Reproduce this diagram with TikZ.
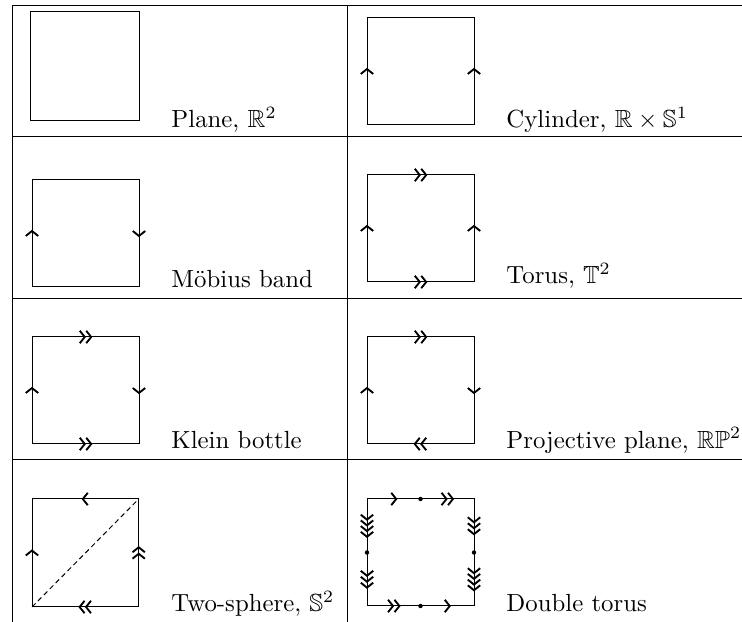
\documentclass[tikz,border=0pt]{standalone}
\usepackage{amssymb}
\usetikzlibrary{calc}
\tikzset{
  chevline/.style={line width=0.75pt,line join=miter},
  cone/.pic={\draw[chevline] (-1pt,2.5pt) -- (1pt,0pt) -- (-1pt,-2.5pt);},
  ctwo/.pic={\draw[chevline] (-2.3pt,2.5pt) -- (-0.3pt,0pt) -- (-2.3pt,-2.5pt);
             \draw[chevline] (0.3pt,2.5pt) -- (2.3pt,0pt) -- (0.3pt,-2.5pt);},
  cthree/.pic={\draw[chevline] (-3.4pt,2.5pt) -- (-1.4pt,0pt) -- (-3.4pt,-2.5pt);
             \draw[chevline] (-1pt,2.5pt) -- (1pt,0pt) -- (-1pt,-2.5pt);
             \draw[chevline] (1.4pt,2.5pt) -- (3.4pt,0pt) -- (1.4pt,-2.5pt);},
  cfour/.pic={\draw[chevline] (-4.45pt,2.5pt) -- (-2.45pt,0pt) -- (-4.45pt,-2.5pt);
             \draw[chevline] (-2.15pt,2.5pt) -- (-0.15pt,0pt) -- (-2.15pt,-2.5pt);
             \draw[chevline] (0.15pt,2.5pt) -- (2.15pt,0pt) -- (0.15pt,-2.5pt);
             \draw[chevline] (2.45pt,2.5pt) -- (4.45pt,0pt) -- (2.45pt,-2.5pt);},
  tabrule/.style={line width=0.4pt},
  sq/.style={line width=0.4pt},
  lab/.style={anchor=base west,inner sep=0pt},
  vdot/.style={circle,fill,inner sep=0pt,minimum size=1.8pt},
}
\begin{document}
\begin{tikzpicture}[x=0.4032pt,y={(0pt,-0.4032pt)}]
\useasboundingbox (0,0) rectangle (742,622);
% table rules
\coordinate (tl) at (12,5.5);
\coordinate (tr) at (742,5.5);
\draw[tabrule] (tl) -- (tr);
\draw[tabrule] (12,137) -- (742,137);
\draw[tabrule] (12,299) -- (742,299);
\draw[tabrule] (12,460) -- (742,460);
\draw[tabrule] (12,5.5) -- (12,622);
\draw[tabrule] (347,5.5) -- (347,622);

% Plane
\draw[sq] (30,12) rectangle (139,121);
\node[lab] (l1) at (171,128) {Plane, $\mathbb{R}^2$};

% Cylinder
\coordinate (c1) at (367,18); \coordinate (c3) at (474,125);
\draw[sq] (c1) rectangle (c3);
\pic[rotate=90] at (367,71.5) {cone};
\pic[rotate=90] at (474,71.5) {cone};
\node[lab] (l2) at (506,128) {Cylinder, $\mathbb{R}\times\mathbb{S}^1$};

% Moebius
\coordinate (m1) at (32,180); \coordinate (m3) at (139,287);
\draw[sq] (m1) rectangle (m3);
\pic[rotate=90] at (32,233.5) {cone};
\pic[rotate=-90] at (139,233.5) {cone};
\node[lab] (l3) at (171,288) {M\"obius band};

% Torus
\coordinate (t1) at (367,175); \coordinate (t3) at (474,282);
\draw[sq] (t1) rectangle (t3);
\pic at (420.5,175) {ctwo};
\pic at (420.5,282) {ctwo};
\pic[rotate=90] at (367,228.5) {cone};
\pic[rotate=90] at (474,228.5) {cone};
\node[lab] (l4) at (506,284) {Torus, $\mathbb{T}^2$};

% Klein
\coordinate (k1) at (32,337); \coordinate (k3) at (139,444);
\draw[sq] (k1) rectangle (k3);
\pic at (85.5,337) {ctwo};
\pic at (85.5,444) {ctwo};
\pic[rotate=90] at (32,390.5) {cone};
\pic[rotate=-90] at (139,390.5) {cone};
\node[lab] (l5) at (171,449) {Klein bottle};

% Projective plane
\coordinate (p1) at (367,337); \coordinate (p3) at (474,444);
\draw[sq] (p1) rectangle (p3);
\pic at (420.5,337) {ctwo};
\pic[rotate=180] at (420.5,444) {ctwo};
\pic[rotate=90] at (367,390.5) {cone};
\pic[rotate=-90] at (474,390.5) {cone};
\node[lab] (l6) at (506,449) {Projective plane, $\mathbb{RP}^2$};

% Two-sphere
\coordinate (s1) at (32,499); \coordinate (s2) at (138.7,499);
\coordinate (s3) at (138.7,607); \coordinate (s4) at (32,607);
\draw[sq] (s1) rectangle (s3);
\pic[rotate=180] at (85.3,499) {cone};
\pic[rotate=90] at (138.7,553) {ctwo};
\pic[rotate=180] at (85.3,607) {ctwo};
\pic[rotate=90] at (32,553) {cone};
\draw[line width=0.4pt,dash pattern=on 2pt off 1.4pt] (s4) -- (s2);
\node[lab] (l7) at (171,612) {Two-sphere, $\mathbb{S}^2$};

% Double torus
\coordinate (d1) at (367,499); \coordinate (d3) at (474,606);
\draw[sq] (d1) rectangle (d3);
\pic at (393.75,499) {cone};
\pic at (447.25,499) {ctwo};
\pic[rotate=-90] at (474,525.75) {cthree};
\pic[rotate=-90] at (474,579.25) {cfour};
\pic at (393.75,606) {ctwo};
\pic at (447.25,606) {cone};
\pic[rotate=-90] at (367,525.75) {cfour};
\pic[rotate=-90] at (367,579.25) {cthree};
\node[vdot] (n1) at (420.5,499) {};
\node[vdot] (n2) at (474,552.5) {};
\node[vdot] (n3) at (420.5,606) {};
\node[vdot] (n4) at (367,552.5) {};
\node[lab] (l8) at (506,612) {Double torus};
\end{tikzpicture}
\end{document}
